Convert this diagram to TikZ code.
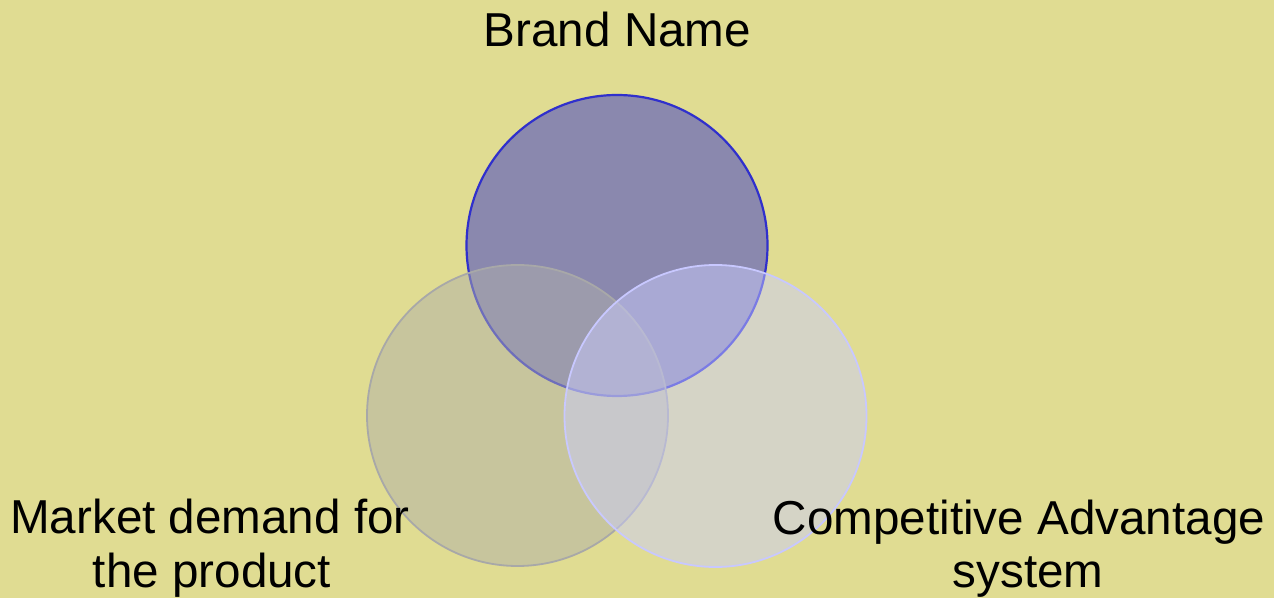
\documentclass[tikz,border=0pt]{standalone}
\usepackage{fontspec}
\setmainfont{Liberation Sans}
\definecolor{bgc}{RGB}{224,220,146}
\definecolor{topfill}{RGB}{138,136,174}
\definecolor{topline}{RGB}{48,48,204}
\definecolor{blfill}{RGB}{175,175,170}
\definecolor{blline}{RGB}{168,168,168}
\definecolor{brfill}{RGB}{203,205,255}
\definecolor{brline}{RGB}{200,200,255}
\begin{document}
\begin{tikzpicture}[x=0.5pt,y=-0.5pt,
  lbl/.style={inner sep=0pt,anchor=base,font=\fontsize{23.8pt}{24.5pt}\selectfont,text=black},
  topc/.style={circle,draw=topline,fill=topfill,line width=1.1pt,minimum size=150.5pt,inner sep=0pt},
  blc/.style={circle,draw=blline,fill=blfill,fill opacity=0.49,line width=0.9pt,minimum size=150.5pt,inner sep=0pt},
  brc/.style={circle,draw=brline,fill=brfill,fill opacity=0.48,line width=0.9pt,minimum size=151pt,inner sep=0pt}]
\fill[bgc] (0,0) rectangle (1274,598);
\useasboundingbox (0,0) rectangle (1274,598);
\node[topc] (top) at (617,245.5) {};
\node[blc] (bl) at (517.5,415.5) {};
\node[brc] (br) at (715.5,416) {};
\node[lbl] (bn) at (617.5,47) {Brand Name};
\node[lbl] (mdA) at (210,533.5) {Market demand for};
\node[lbl] (mdB) at (212,587.5) {the product};
\node[lbl] (caA) at (1019,534.5) {Competitive Advantage};
\node[lbl] (caB) at (1028,587.5) {system};
\end{tikzpicture}
\end{document}
